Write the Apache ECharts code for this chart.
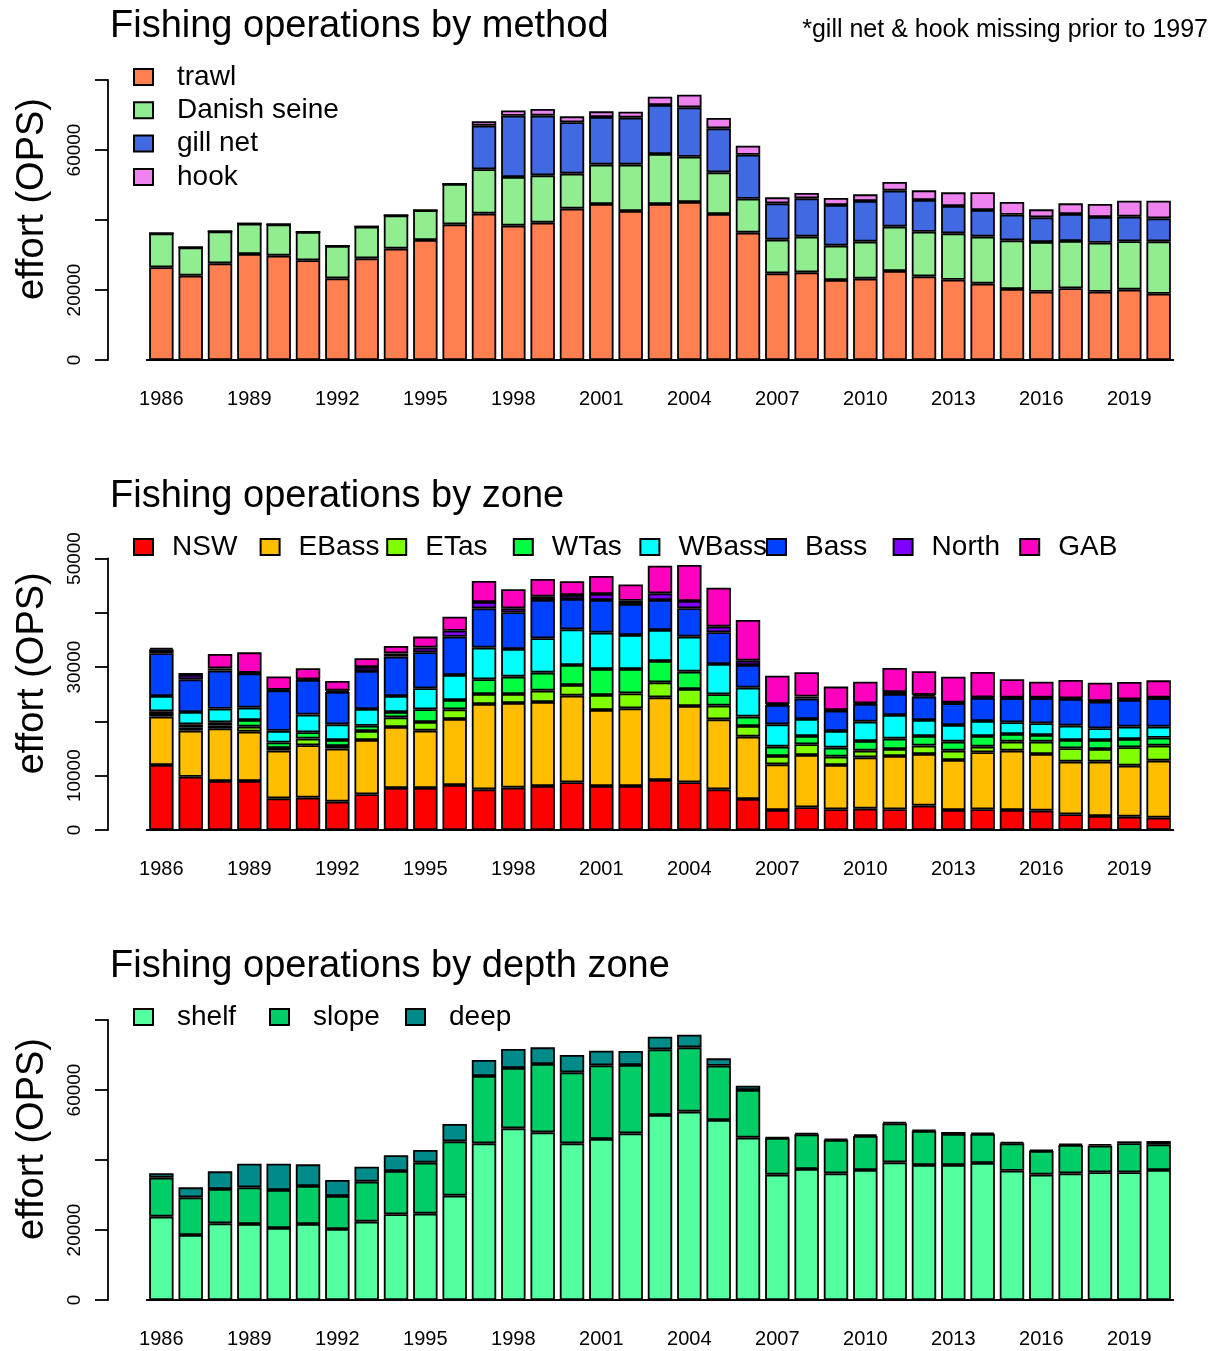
<!DOCTYPE html>
<html>
<head>
<meta charset="UTF-8">
<title>Fishing operations</title>
<script src="https://cdn.jsdelivr.net/npm/echarts@6/dist/echarts.min.js"></script>
<style>
html, body { margin: 0; padding: 0; background: #fff; }
#main { width: 1220px; height: 1351px; }
</style>
</head>
<body>
<div id="main"></div>
<script type="text/javascript">
var years = ['1986','1987','1988','1989','1990','1991','1992','1993','1994','1995','1996','1997',
	'1998','1999','2000','2001','2002','2003','2004','2005','2006','2007','2008','2009','2010',
	'2011','2012','2013','2014','2015','2016','2017','2018','2019','2020'];

// panel 1: by method
var methodNames = ['trawl', 'Danish seine', 'gill net', 'hook'];
var trawl = [26480, 24100, 27620, 30290, 29810, 28480, 23330, 29050, 31810, 34290, 38760, 41810, 38380, 39240, 43240, 44570, 42570, 44570, 45140, 41710, 36380, 24760, 25050, 22860, 23240, 25430, 23900, 22950, 21810, 20290, 19520, 20480, 19520, 20100, 18950];
var danish = [9710, 8090, 9140, 8660, 8950, 8090, 9240, 9050, 9520, 8480, 11520, 12670, 13900, 13520, 10000, 11240, 13240, 14290, 12950, 11910, 9710, 9620, 10190, 9810, 10570, 12670, 12760, 13240, 13430, 13900, 14190, 13520, 14000, 13810, 14950];
var gillnet = [0, 0, 0, 0, 0, 0, 0, 0, 0, 0, 0, 12480, 17520, 17050, 14670, 13620, 13430, 14000, 14100, 12570, 12570, 10380, 10950, 11620, 11620, 10290, 9050, 7810, 7620, 7330, 7050, 7710, 7330, 7050, 6570];
var hook = [0, 0, 0, 0, 0, 0, 0, 0, 0, 0, 0, 1240, 1520, 1900, 1710, 1620, 1710, 2380, 3620, 2950, 2570, 1710, 1520, 2000, 1900, 2480, 2760, 3900, 5050, 3620, 2290, 3050, 3710, 4570, 5050];
var methodColors = ['#FF7F50', '#90EE90', '#4169E1', '#EE82EE'];
var yLabels1 = [0, 20000, 60000];

// panel 2: by zone
var zoneNames = ['NSW', 'EBass', 'ETas', 'WTas', 'WBass', 'Bass', 'North', 'GAB'];
var nsw = [11970, 9820, 9020, 9020, 5830, 5960, 5220, 6570, 7740, 7740, 8290, 7490, 7800, 8100, 8780, 8100, 8100, 9210, 8780, 7490, 5710, 3680, 4180, 3810, 3930, 3810, 4480, 3680, 3810, 3680, 3560, 2890, 2580, 2460, 2270];
var ebass = [8900, 8470, 9700, 9090, 8780, 9640, 9760, 10000, 11230, 10560, 12150, 15720, 15590, 15470, 15960, 14000, 14300, 15220, 14060, 12890, 11480, 8410, 9640, 8160, 9450, 9820, 9520, 9210, 10500, 10930, 10440, 9700, 10010, 9390, 10500];
var etas = [500, 550, 490, 920, 500, 1230, 490, 1660, 1780, 1600, 1780, 1840, 1660, 2090, 1960, 2760, 2760, 2760, 3130, 2520, 1970, 1540, 1960, 1540, 1230, 1290, 1540, 1720, 1040, 1660, 2270, 2460, 2330, 3380, 2760];
var wtas = [500, 610, 610, 1230, 1000, 1170, 1100, 980, 980, 2330, 1720, 2700, 3190, 3320, 3680, 4790, 4480, 3930, 3190, 2090, 1720, 1720, 1540, 1660, 1780, 1900, 1780, 1660, 1960, 1410, 1230, 1530, 1660, 1530, 1470];
var wbass = [2800, 2270, 2520, 2270, 2150, 3250, 2890, 3070, 2950, 3870, 4600, 5830, 5100, 6320, 6570, 6690, 6260, 5710, 6450, 5590, 5340, 4110, 3130, 3070, 3560, 4360, 2950, 3070, 2760, 2150, 2150, 2640, 2150, 2270, 2030];
var bass = [7900, 6020, 7000, 6320, 7430, 6390, 5950, 7000, 7240, 6630, 7060, 7240, 6750, 7060, 5590, 6020, 5710, 5520, 5220, 5830, 4170, 3560, 3750, 3750, 3250, 3870, 4300, 3990, 4240, 4420, 4600, 4910, 4910, 4910, 5220];
var north = [700, 800, 430, 120, 120, 120, 250, 740, 610, 860, 1100, 1170, 740, 610, 740, 1100, 610, 1230, 1350, 1040, 800, 180, 370, 120, 120, 370, 310, 120, 120, 120, 120, 120, 120, 120, 120];
var gab = [300, 370, 2640, 3750, 2460, 2030, 1780, 1600, 1350, 2030, 2580, 3870, 3500, 3250, 2520, 3320, 3010, 5100, 6630, 7180, 7490, 5220, 4480, 4300, 3990, 4420, 4360, 4790, 4670, 3380, 2950, 3380, 3380, 3190, 3190];
var zoneColors = ['#FF0000', '#FFBF00', '#80FF00', '#00FF40', '#00FFFF', '#0040FF', '#8000FF', '#FF00BF'];
var yLabels2 = [0, 10000, 30000, 50000];

// panel 3: by depth zone
var depthNames = ['shelf', 'slope', 'deep'];
var shelf = [23810, 18570, 21900, 21710, 20570, 21710, 20290, 22380, 24480, 24670, 29810, 44760, 49050, 47900, 44760, 46000, 47620, 52860, 53810, 51430, 46380, 35810, 37430, 36190, 37140, 39330, 38570, 38570, 39140, 36950, 35810, 36190, 36480, 36480, 37140];
var slope = [11140, 10760, 9810, 10480, 10860, 10860, 9430, 11430, 12380, 14570, 15520, 19240, 17240, 19520, 20290, 21050, 19520, 18760, 18380, 15520, 13620, 10480, 9900, 9520, 9710, 11140, 9710, 8860, 8290, 7810, 6760, 8100, 7620, 8290, 7330];
var deep = [1240, 2860, 5050, 6760, 7520, 6190, 4570, 4290, 4480, 3620, 4950, 4570, 5430, 4760, 4950, 4190, 4000, 3620, 3620, 2100, 1240, 190, 380, 380, 480, 380, 290, 570, 380, 380, 290, 380, 480, 570, 950];
var depthColors = ['#54FF9F', '#00CD66', '#008B8B'];
var yLabels3 = [0, 20000, 60000];

var font = "'Liberation Sans', Arial, sans-serif";
var zeros = [360, 830, 1300];

var myChart = echarts.init(document.getElementById('main'), null, {renderer: 'canvas'});

function makeSeries(names, colors, values, idx) {
	var out = [];
	for (var i = 0; i < names.length; i++) {
		out.push({
			name: names[i],
			type: 'bar',
			stack: 'p' + idx,
			xAxisIndex: idx,
			yAxisIndex: idx,
			barCategoryGap: '16.7%',
			itemStyle: {color: colors[i], borderColor: '#000', borderWidth: 1.8},
			emphasis: {disabled: true},
			data: values[i]
		});
	}
	return out;
}

function legendItem(name, left, center, gap) {
	return {
		data: [name],
		left: left,
		top: center - 15,
		padding: 0,
		icon: 'rect',
		itemWidth: 19,
		itemHeight: 16,
		selectedMode: false,
		textStyle: {fontFamily: font, fontSize: 28, color: '#000', lineHeight: 30, padding: [0, 0, 0, gap]}
	};
}

function xAxisFor(idx) {
	return {
		type: 'category',
		gridIndex: idx,
		data: years,
		axisLine: {lineStyle: {color: '#000', width: 1.8}},
		axisTick: {interval: 0, alignWithLabel: true, length: 13, lineStyle: {color: '#000', width: 1.8}},
		axisLabel: {interval: 2, margin: 29, color: '#000', fontSize: 20, fontFamily: font}
	};
}

function yAxisFor(idx, max, step, shown) {
	return {
		type: 'value',
		gridIndex: idx,
		min: 0,
		max: max,
		interval: step,
		offset: 38.7,
		name: 'effort (OPS)',
		nameLocation: 'middle',
		nameRotate: 90,
		nameGap: 56,
		nameTextStyle: {fontFamily: font, fontSize: 38, color: '#000', padding: [0, 0, 0, 42]},
		axisLine: {show: true, lineStyle: {color: '#000', width: 1.8}},
		axisTick: {show: true, length: 13, lineStyle: {color: '#000', width: 1.8}},
		splitLine: {show: false},
		axisLabel: {
			rotate: 90,
			margin: 24,
			color: '#000',
			fontSize: 19,
			fontFamily: font,
			formatter: function (v) { return shown.indexOf(v) >= 0 ? String(v) : ''; }
		}
	};
}

var legends = [];
for (var i = 0; i < methodNames.length; i++) {
	legends.push(legendItem(methodNames[i], 133, zeros[0] - 283 + i * 33.3, 19));
}
var zoneLeft = [133, 259.6, 386.2, 512.8, 639.4, 766, 892.6, 1019.2];
for (var j = 0; j < zoneNames.length; j++) {
	legends.push(legendItem(zoneNames[j], zoneLeft[j], zeros[1] - 283, 14));
}
var depthLeft = [133, 269, 405];
for (var k = 0; k < depthNames.length; k++) {
	legends.push(legendItem(depthNames[k], depthLeft[k], zeros[2] - 283, 19));
}

var titleStyle = {fontFamily: font, fontSize: 38, fontWeight: 'normal', color: '#000'};

var option = {
	animation: false,
	backgroundColor: '#fff',
	title: [
		{text: 'Fishing operations by method', left: 110, top: zeros[0] - 352, padding: 0, textStyle: titleStyle},
		{text: 'Fishing operations by zone', left: 110, top: zeros[1] - 352, padding: 0, textStyle: titleStyle},
		{text: 'Fishing operations by depth zone', left: 110, top: zeros[2] - 352, padding: 0, textStyle: titleStyle},
		{text: '*gill net & hook missing prior to 1997', right: 12, top: 18, padding: 0,
			textStyle: {fontFamily: font, fontSize: 25, fontWeight: 'normal', color: '#000'}}
	],
	legend: legends,
	grid: [
		{left: 146.7, right: 46.7, top: 80, height: 280},
		{left: 146.7, right: 46.7, top: 558.5, height: 271.5},
		{left: 146.7, right: 46.7, top: 1020, height: 280}
	],
	xAxis: [xAxisFor(0), xAxisFor(1), xAxisFor(2)],
	yAxis: [
		yAxisFor(0, 80000, 20000, yLabels1),
		yAxisFor(1, 50000, 10000, yLabels2),
		yAxisFor(2, 80000, 20000, yLabels3)
	],
	series: [].concat(
		makeSeries(methodNames, methodColors, [trawl, danish, gillnet, hook], 0),
		makeSeries(zoneNames, zoneColors, [nsw, ebass, etas, wtas, wbass, bass, north, gab], 1),
		makeSeries(depthNames, depthColors, [shelf, slope, deep], 2)
	)
};
myChart.setOption(option);
</script>
</body>
</html>
